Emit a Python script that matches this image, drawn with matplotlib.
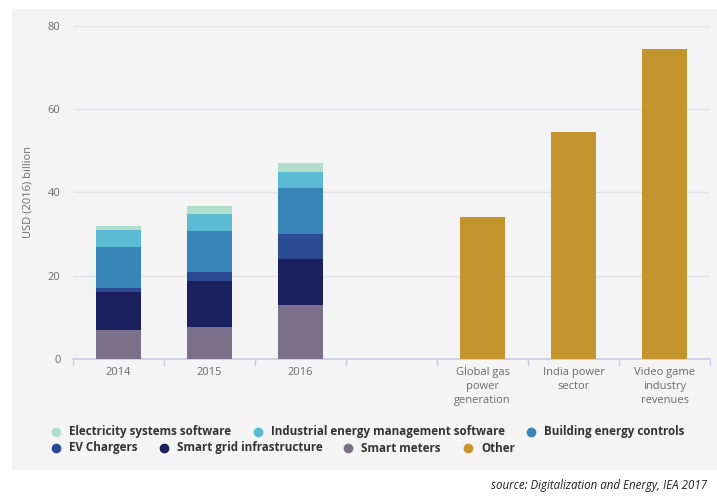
import matplotlib
matplotlib.use("Agg")
import matplotlib.pyplot as plt
from matplotlib import font_manager
from matplotlib.patches import Rectangle
import numpy as np

# ---------------- data ----------------
categories = ["2014", "2015", "2016", "", "Global gas\npower\ngeneration",
              "India power\nsector", "Video game\nindustry\nrevenues"]
series_names = ["Smart meters", "Smart grid infrastructure", "EV Chargers",
                "Building energy controls", "Industrial energy management software",
                "Electricity systems software"]
series_colors = ["#7a7089", "#1b1f5e", "#2b4a93", "#3985b8", "#5bbbd5", "#b2dfcb"]
smart_meters = [7, 7.7, 13]
smart_grid = [9, 11.1, 11]
ev_chargers = [1, 2, 6]
building_controls = [10, 10, 11]
industrial_software = [4, 4, 4]
electricity_software = [1, 2, 2]
stacked_values = [smart_meters, smart_grid, ev_chargers, building_controls,
                  industrial_software, electricity_software]
other_values = [34, 54.6, 74.5]
other_name = "Other"
other_color = "#c4942f"
yticks = [0, 20, 40, 60, 80]
ylabel = "USD (2016) billion"
source_text = "source: Digitalization and Energy, IEA 2017"

# ---------------- fonts ----------------
names = {f.name for f in font_manager.fontManager.ttflist}
base_font = "Open Sans" if "Open Sans" in names else "DejaVu Sans"
plt.rcParams["font.family"] = [base_font, "DejaVu Sans"]

W, H = 717, 497
fig = plt.figure(figsize=(W / 100, H / 100), dpi=100, facecolor="white")

# gray panel
fig.patches.append(Rectangle((12 / W, 1 - 470 / H), (W - 12) / W, (470 - 9) / H,
                             transform=fig.transFigure, facecolor="#f4f4f5",
                             edgecolor="none", zorder=-5))

ax_left, ax_right = 73 / W, 710 / W
ax_bottom, ax_top = 1 - 358.7 / H, 1 - 26.3 / H
ax = fig.add_axes([ax_left, ax_bottom, ax_right - ax_left, ax_top - ax_bottom])
ax.set_facecolor("none")
ax.set_zorder(2)

x = np.arange(len(categories))
bw = 0.49
bottom = np.zeros(3)
for vals, col in zip(stacked_values, series_colors):
    ax.bar(x[:3], vals, bw, bottom=bottom, color=col, zorder=3, linewidth=0)
    bottom += np.array(vals)
ax.bar(x[4:], other_values, bw, color=other_color, zorder=3, linewidth=0)

ax.set_xlim(-0.5, len(categories) - 0.5)
ax.set_ylim(0, 80)
ax.set_yticks(yticks)
ax.yaxis.grid(True, color="#e2e3e8", linewidth=1, zorder=0)
ax.set_axisbelow(True)
for s in ["top", "right", "left"]:
    ax.spines[s].set_visible(False)
ax.spines["bottom"].set_color("#c9cde0")
ax.spines["bottom"].set_linewidth(1.2)

ax.set_xticks(x)
ax.set_xticklabels(categories, fontsize=8, color="#6b6b6b", linespacing=1.38)
ax.set_xticks(np.arange(-0.5, len(categories)), minor=True)
ax.tick_params(axis="x", which="major", length=0, pad=6)
ax.tick_params(axis="x", which="minor", length=5, color="#c9cde0", width=1)
ax.tick_params(axis="y", length=0, pad=9, labelsize=8, labelcolor="#6b6b6b")
ax.set_ylabel(ylabel, fontsize=8, color="#6b6b6b")
ax.yaxis.set_label_coords(-(73 - 34) / (710 - 73), 0.5)

# legend (manual layout)
leg_font = dict(fontweight="bold", fontsize=8.4, color="#333333")
legend_items = series_names[::-1] + [other_name]
legend_cols = series_colors[::-1] + [other_color]
legend_pos = [(56, 432), (258, 432), (531, 432), (56, 448), (164, 448), (348, 448), (468, 448)]
for name, col, (px, py) in zip(legend_items, legend_cols, legend_pos):
    fig.add_artist(plt.Line2D([px / W], [1 - py / H], marker="o", markersize=6,
                              color=col, linestyle="none", transform=fig.transFigure))
    fig.text((px + 13) / W, 1 - (py + 3.5) / H, name, va="baseline", ha="left", **leg_font)

fig.text(707 / W, 1 - 485 / H, source_text, ha="right", va="center",
         fontsize=8.3, style="italic", color="#222222")

fig.savefig("out.png", dpi=100, facecolor="white")
